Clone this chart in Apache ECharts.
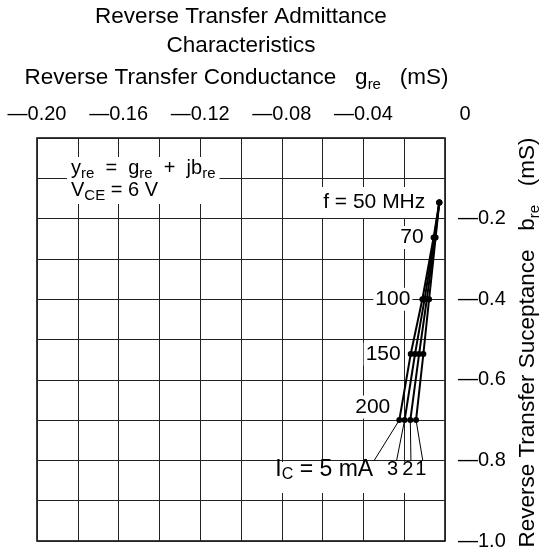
<!DOCTYPE html>
<html><head><meta charset="utf-8">
<script src="https://cdn.jsdelivr.net/npm/echarts@6/dist/echarts.min.js"></script>
<style>html,body{margin:0;padding:0;background:#fff}#c{width:544px;height:553px}</style>
</head><body><div id="c"></div>
<script>
// ---- data ----
const freqLabels = ['f = 50 MHz', '70', '100', '150', '200'];
const currents = ['5', '3', '2', '1'];            // I_C (mA), left to right
const bre = [-0.160, -0.247, -0.400, -0.536, -0.700];   // b_re (mS) at 50,70,100,150,200 MHz
const gre5 = [-0.0028, -0.0056, -0.0111, -0.0168, -0.0224];
const gre3 = [-0.0028, -0.0052, -0.0100, -0.0147, -0.0198];
const gre2 = [-0.0028, -0.0049, -0.0089, -0.0127, -0.0170];
const gre1 = [-0.0028, -0.0046, -0.0078, -0.0106, -0.0142];
const xTickLabels = [-0.20, -0.16, -0.12, -0.08, -0.04, 0];
const yTickLabels = [-0.2, -0.4, -0.6, -0.8, -1.0];
const leaderG = [-0.0347, -0.0237, -0.0167, -0.0109];   // leader-line ends (g_re)
const leaderB = -0.80;                                   // leader-line ends (b_re)

const FONT = '"Liberation Sans", Arial, Helvetica, sans-serif';
const gSeries = [gre5, gre3, gre2, gre1];
const subStyle = { fontSize: 15, padding: [13, 0, 0, 0], fontFamily: FONT, color: '#000' };

const chart = echarts.init(document.getElementById('c'));

const labelCfg = [
  { distance: 9, offset: [0, 0] },
  { distance: 5, offset: [0, 0] },
  { distance: 7, offset: [0, 0] },
  { distance: 5, offset: [0, 0] },
  { distance: 4, offset: [0, -13] }
];

const series = gSeries.map((g, k) => ({
  type: 'line',
  name: currents[k] + ' mA',
  data: g.map((x, i) => {
    const item = { value: [x, bre[i]] };
    if (k === 0) {
      item.label = {
        show: true, formatter: freqLabels[i], position: 'left',
        distance: labelCfg[i].distance, offset: labelCfg[i].offset,
        backgroundColor: '#fff', padding: i === 0 ? [5, 2] : [1, 2],
        fontSize: 21, fontFamily: FONT, color: '#000'
      };
    }
    return item;
  }),
  symbol: 'circle', symbolSize: 6,
  itemStyle: { color: '#000' },
  lineStyle: { color: '#000', width: 2 },
  z: 5,
  animation: false
}));

// leader lines from the 200 MHz points to the I_C labels
gSeries.forEach((g, k) => {
  series.push({
    type: 'line',
    data: [[g[4], bre[4]], [leaderG[k], leaderB]],
    symbol: 'none',
    lineStyle: { color: '#000', width: 1 },
    z: 4,
    animation: false
  });
});

// I_C labels
const icOffsets = [[0, 0], [-4, 0], [-3, 0], [-2, 0]];
series.push({
  type: 'scatter',
  symbolSize: 1,
  itemStyle: { color: '#000', opacity: 1 },
  z: 6,
  animation: false,
  data: leaderG.map((x, k) => ({
    value: [x, leaderB],
    label: {
      show: true,
      formatter: k === 0 ? 'I{s|C} = ' + currents[k] + ' mA' : currents[k],
      position: 'bottom', distance: 1,
      align: k === 0 ? 'right' : 'center',
      offset: icOffsets[k],
      lineHeight: 16,
      backgroundColor: '#fff', padding: [0, 1, 15, 1],
      fontSize: k === 0 ? 23 : 20, fontFamily: FONT, color: '#000', textBorderWidth: 0,
      rich: {
        s: { fontSize: 16, lineHeight: 16, padding: [10, 0, 0, 0], fontFamily: FONT, color: '#000' }
      }
    }
  }))
});

const near = (a, b) => Math.abs(a - b) < 1e-6;

chart.setOption({
  backgroundColor: '#fff',
  animation: false,
  textStyle: { fontFamily: FONT },
  grid: { left: 37, top: 138, width: 408, height: 403, containLabel: false, outerBoundsMode: 'none',
          show: true, borderColor: '#000', borderWidth: 1.5, backgroundColor: 'transparent' },
  xAxis: {
    type: 'value', position: 'top', min: -0.2, max: 0, interval: 0.02,
    name: 'Reverse Transfer Conductance   g{s|re}   (mS)',
    nameLocation: 'middle', nameGap: 46,
    nameTextStyle: { fontSize: 22.5, color: '#000', fontFamily: FONT, padding: [0, 9, 0, 0], rich: { s: subStyle } },
    axisLine: { show: false }, axisTick: { show: false },
    splitLine: { show: true, lineStyle: { color: '#222', width: 1 } },
    axisLabel: {
      margin: 14, fontSize: 20, color: '#000', fontFamily: FONT,
      showMinLabel: true, showMaxLabel: true,
      formatter: v => {
        const t = xTickLabels.find(a => near(a, v));
        if (t === undefined) return '';
        if (t === 0) return '{z|0}';
        return '\u2014' + Math.abs(t).toFixed(2);
      },
      rich: { z: { padding: [0, 0, 0, 40], fontSize: 20, fontFamily: FONT, color: '#000' } }
    }
  },
  yAxis: {
    type: 'value', position: 'right', min: -1.0, max: 0, interval: 0.1,
    name: 'Reverse Transfer Suceptance   b{s|re}   (mS)',
    nameLocation: 'middle', nameGap: 68, nameRotate: 90,
    nameTextStyle: { fontSize: 22.5, color: '#000', fontFamily: FONT, padding: [0, 6, 0, 0], rich: { s: subStyle } },
    axisLine: { show: false }, axisTick: { show: false },
    splitLine: { show: true, lineStyle: { color: '#222', width: 1 } },
    axisLabel: {
      margin: 13, fontSize: 20, color: '#000', fontFamily: FONT,
      formatter: v => {
        const t = yTickLabels.find(a => near(a, v));
        if (t === undefined) return '';
        return '\u2014' + Math.abs(t).toFixed(1);
      }
    }
  },
  graphic: [
    { type: 'text', x: 241, y: 17, z: 100,
      style: { text: 'Reverse Transfer Admittance', align: 'center', verticalAlign: 'middle', fontSize: 22.5, fontFamily: FONT, fill: '#000' } },
    { type: 'text', x: 241, y: 46, z: 100,
      style: { text: 'Characteristics', align: 'center', verticalAlign: 'middle', fontSize: 22.5, fontFamily: FONT, fill: '#000' } },
    { type: 'text', x: 67, y: 157, z: 100,
      style: {
        text: 'y{s|re}  =  g{s|re}  +  jb{s|re}\nV{s|CE} = 6 V',
        fontSize: 20, fontFamily: FONT, fill: '#000', lineHeight: 22,
        backgroundColor: '#fff', padding: [0, 4, 3, 4],
        rich: { s: { fontSize: 15, padding: [12, 0, 0, 0], fontFamily: FONT, fill: '#000' } }
      } }
  ],
  series: series
});
</script>
</body></html>
